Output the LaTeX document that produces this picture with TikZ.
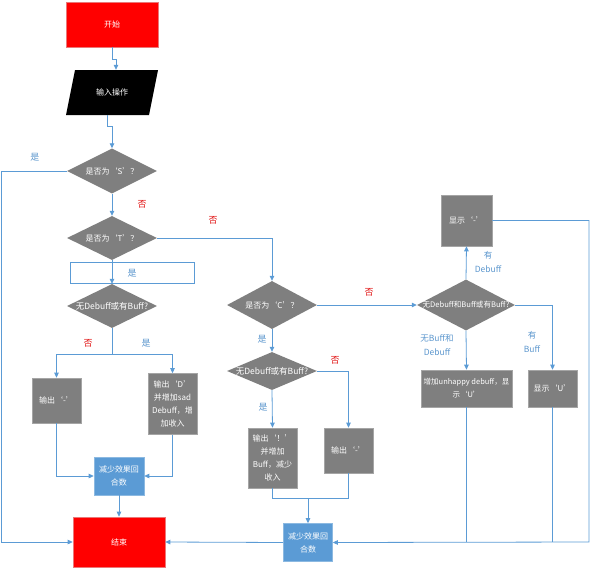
\documentclass[tikz,border=0pt]{standalone}
\usepackage{fontspec}
\setmainfont{Noto Sans CJK SC}
\usetikzlibrary{shapes.geometric,arrows.meta}
\definecolor{lc}{RGB}{91,155,213}
\definecolor{gf}{RGB}{127,127,127}
\definecolor{gb}{RGB}{165,165,165}
\definecolor{bf}{RGB}{91,155,213}
\definecolor{bb}{RGB}{140,185,225}
\definecolor{rb}{RGB}{235,120,120}
\definecolor{lr}{RGB}{225,20,20}
\definecolor{lb}{RGB}{91,150,205}
\begin{document}
\begin{tikzpicture}[x=1pt,y=-1pt,
  arr/.style={draw=lc, line width=0.8pt, -{Triangle[length=5pt,width=4.5pt]}},
  ln/.style={draw=lc, line width=0.8pt},
  gbox/.style={rectangle, fill=gf, draw=gb, line width=0.6pt, text=white, font=\fontsize{8}{13}\selectfont, align=center, inner sep=1pt},
  bbox/.style={gbox, fill=bf, draw=bb},
  rbox/.style={rectangle, fill=red, draw=rb, line width=0.6pt, text=white, font=\fontsize{8}{10}\selectfont},
  dia/.style={diamond, fill=gf, inner sep=0pt},
  dtxt/.style={text=white, font=\fontsize{8}{10}\selectfont, inner sep=0pt},
  dtxs/.style={dtxt, font=\fontsize{8.5}{10}\selectfont},
  rl/.style={text=lr, font=\fontsize{9}{10}\selectfont, align=center, inner sep=0pt},
  bl/.style={text=lb, font=\fontsize{9}{10}\selectfont, align=center, inner sep=0pt},
]
\useasboundingbox (0,0) rectangle (590,574);

% start / input
\node[rbox, minimum width=92pt, minimum height=45pt] (start) at (112,24.5) {开始};
\fill[black] (75,70) -- (158,70) -- (149,115) -- (66,115) -- cycle;
\node[rectangle, minimum width=92pt, minimum height=45pt, inner sep=0pt, text=white, font=\fontsize{8}{10}\selectfont] (input) at (112,92.5) {输入操作};

% left column
\node[dia, minimum width=90pt, minimum height=45pt] (dS) at (112,171) {};
\node[dtxt] (dSt) at (dS) {是否为‘S’？};
\node[dia, minimum width=90pt, minimum height=44pt] (dT) at (112,238) {};
\node[dtxt] (dTt) at (dT) {是否为‘T’？};
\node[rectangle, draw=lc, line width=0.6pt, fill=white, minimum width=124pt, minimum height=21pt, inner sep=0pt] (yesbox) at (132,273) {};
\node[bl] (yesT) at (132,273) {是};
\node[dia, minimum width=90pt, minimum height=44pt] (dB1) at (112,306) {};
\node[dtxs] (dB1t) at (dB1) {无Debuff或有Buff?};
\node[gbox, minimum width=49pt, minimum height=45pt] (boxL) at (56.5,400.5) {输出‘-’};
\node[gbox, minimum width=49pt, minimum height=61pt] (boxD) at (172.5,404) {输出‘D’\\并增加sad\\Debuff，增\\加收入};
\node[bbox, minimum width=50pt, minimum height=38pt] (R1) at (119,476) {减少效果回\\合数};
\node[rbox, minimum width=92pt, minimum height=50pt] (end) at (119,542) {结束};

% middle column
\node[dia, minimum width=90pt, minimum height=48pt] (dC) at (272,305) {};
\node[dtxt] (dCt) at (dC) {是否为‘C’？};
\node[dia, minimum width=90pt, minimum height=38pt] (dB2) at (272,371) {};
\node[dtxs] (dB2t) at (dB2) {无Debuff或有Buff?};
\node[gbox, minimum width=49pt, minimum height=60pt] (boxI) at (272.5,458) {输出‘！’\\并增加\\Buff，减少\\收入};
\node[gbox, minimum width=49pt, minimum height=45pt] (boxO2) at (348.5,450.5) {输出‘-’};
\node[bbox, minimum width=49pt, minimum height=38pt] (R2) at (308,542.5) {减少效果回\\合数};

% right column
\node[dia, minimum width=98pt, minimum height=51pt] (dR) at (466,305) {};
\node[dtxt, font=\fontsize{7.6}{10}\selectfont] (dRt) at (dR) {无Debuff和Buff或有Buff?};
\node[gbox, minimum width=51pt, minimum height=51pt] (disp) at (466.5,220.5) {显示‘-’};
\node[gbox, minimum width=91pt, minimum height=37pt, font=\fontsize{7.5}{13}\selectfont] (unhappy) at (466.5,388.5) {增加unhappy debuff，显\\示‘U’};
\node[gbox, minimum width=49pt, minimum height=37pt] (boxU) at (552.5,388.5) {显示‘U’};

\coordinate (j2) at (308,498);
\coordinate (rc) at (589,542);

% connectors
\draw[arr] (start.south) -- ++(0,12.5) -| ([xshift=4pt]input.north);
\draw[arr] ([xshift=-4.5pt]input.south) -- ++(0,11) -| (dS.north);
\draw[arr] (dS.west) -- ++(-65,0) |- (end.west);
\draw[arr] (dS.south) -- (dT.north);
\draw[arr] (dT.east) -| (dC.north);
\draw[arr] (dT.south) -- (dB1.north);
\draw[arr] (dB1.south) -- ++(0,26) -| (boxL.north);
\draw[arr] (dB1.south) -- ++(0,26) -| (boxD.north);
\draw[arr] (boxL.south) |- (R1.west);
\draw[arr] (boxD.south) |- (R1.east);
\draw[arr] (R1.south) -- (end.north);
\draw[arr] (dC.east) -- (dR.west);
\draw[arr] (dC.south) -- (dB2.north);
\draw[arr] (dB2.east) -| (boxO2.north);
\draw[arr] (dB2.south) -- (boxI.north);
\draw[ln] (boxI.south) |- (j2);
\draw[ln] (boxO2.south) |- (j2);
\draw[arr] (j2) -- (R2.north);
\draw[arr] (R2.west) -- (end.east);
\draw[arr] (dR.north) -- (disp.south);
\draw[arr] (disp.east) -| (rc) -- (R2.east);
\draw[arr] (dR.east) -| (boxU.north);
\draw[arr] (dR.south) -- (unhappy.north);
\draw[ln] (unhappy.south) -- (unhappy.south |- rc);
\draw[ln] (boxU.south) -- (boxU.south |- rc);

% labels
\node[bl] (l1) at (35,157) {是};
\node[rl] (l2) at (142,204) {否};
\node[rl] (l3) at (213,220) {否};
\node[rl] (l4) at (88,343) {否};
\node[bl] (l5) at (146,343) {是};
\node[rl] (l6) at (369,292) {否};
\node[bl] (l7) at (262,339) {是};
\node[rl] (l8) at (335,360) {否};
\node[bl] (l9) at (263,407) {是};
\node[bl, font=\fontsize{8.5}{13.5}\selectfont] (l10) at (488,262) {有\\Debuff};
\node[bl, font=\fontsize{8.5}{14.5}\selectfont] (l11) at (437,345) {无Buff和\\Debuff};
\node[bl, font=\fontsize{8.5}{14.5}\selectfont] (l12) at (532,342) {有\\Buff};
\end{tikzpicture}
\end{document}
